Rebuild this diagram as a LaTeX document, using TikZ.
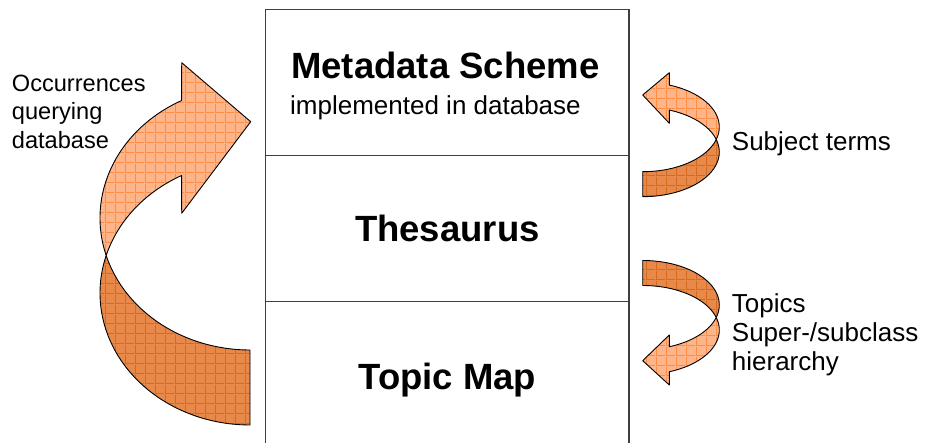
\documentclass[tikz,border=0pt]{standalone}
\usepackage{fontspec}
\setmainfont{Liberation Sans}
\usetikzlibrary{patterns.meta}

% small square mesh laid over the ribbon arrows
\pgfdeclarepattern{
  name=meshgrid,
  type=uncolored,
  bottom left={\pgfpoint{0pt}{0pt}},
  top right={\pgfpoint{9.5pt}{9.5pt}},
  tile size={\pgfpoint{9.5pt}{9.5pt}},
  code={
    \pgfsetlinewidth{0.9pt}
    \pgfpathmoveto{\pgfpoint{0pt}{0.5pt}}
    \pgfpathlineto{\pgfpoint{9.5pt}{0.5pt}}
    \pgfpathmoveto{\pgfpoint{0.5pt}{0pt}}
    \pgfpathlineto{\pgfpoint{0.5pt}{9.5pt}}
    \pgfusepath{stroke}
  }
}

\definecolor{frontfill}{HTML}{FFB58A}
\definecolor{frontgrid}{HTML}{FF8C42}
\definecolor{backfill}{HTML}{E8894A}
\definecolor{backgrid}{HTML}{D46A22}
\definecolor{frame}{HTML}{404040}

\tikzset{
  cell/.style={draw=frame, line width=1.3pt, minimum width=363.3pt,
    minimum height=146.2pt, inner sep=0pt, outer sep=0pt},
  front/.style={preaction={fill=frontfill}, pattern=meshgrid,
    pattern color=frontgrid, draw=black, line width=0.9pt, line join=round},
  back/.style={preaction={fill=backfill}, pattern=meshgrid,
    pattern color=backgrid, draw=black, line width=0.9pt, line join=round},
  layertitle/.style={font=\fontsize{36.5}{42}\selectfont\bfseries, inner sep=0pt},
  layersub/.style={font=\fontsize{26}{30}\selectfont, inner sep=0pt},
  leftnote/.style={font=\fontsize{23.6}{28.3}\selectfont, inner sep=0pt, anchor=base west},
  rightnote/.style={font=\fontsize{26}{29}\selectfont, inner sep=0pt, anchor=base west},
}

\begin{document}
\begin{tikzpicture}[x=1pt, y=1pt]
\useasboundingbox (0,0) rectangle (926,443);

% the three stacked layers (the lowest one runs off the bottom edge)
\begin{scope}
  \clip (0,0) rectangle (926,443);
  \node[cell] (meta) at (447.35,360.6) {};
  \node[cell] (thes) at (447.35,214.4) {};
  \node[cell] (tmap) at (447.35,68.2) {};
\end{scope}

\node[layertitle, anchor=base west] (metatitle) at (291,364.7) {Metadata Scheme};
\node[layersub, anchor=base west] (metasub) at (290,328) {implemented in database};
\node[layertitle, anchor=base] (thestitle) at (447.35,201.3) {Thesaurus};
\node[layertitle, anchor=base] (tmaptitle) at (447.35,53.7) {Topic Map};

% large ribbon arrow on the left: back face, then front face with head
\path[back]
  plot[domain=270:163.5, samples=60] ({250+150*cos(\x)},{150+132*sin(\x)})
  -- plot[domain=196.5:270, samples=60] ({250+150*cos(\x)},{225+132*sin(\x)})
  -- cycle;
\path[front]
  plot[domain=117.1:196.5, samples=60] ({250+150*cos(\x)},{225+132*sin(\x)})
  -- plot[domain=163.5:117.1, samples=60] ({250+150*cos(\x)},{150+132*sin(\x)})
  -- (181.7,229.7) -- (250.7,321.3) -- (181.7,380.3) -- cycle;

% upper right ribbon arrow, turning back to the top layer
\path[back]
  plot[domain=-90:16.24, samples=40] ({642.7+76.6*cos(\x)},{291+44.7*sin(\x)})
  -- plot[domain=-16.24:-90, samples=40] ({642.7+76.6*cos(\x)},{316+44.7*sin(\x)})
  -- cycle;
\path[front]
  plot[domain=69.68:-16.24, samples=40] ({642.7+76.6*cos(\x)},{316+44.7*sin(\x)})
  -- plot[domain=16.24:69.68, samples=40] ({642.7+76.6*cos(\x)},{291+44.7*sin(\x)})
  -- (669.3,319.7) -- (642.7,348) -- (669.3,370.3) -- cycle;

% lower right ribbon arrow, turning down to the bottom layer
\path[back]
  plot[domain=90:-16.31, samples=40] ({642.7+76.6*cos(\x)},{138+44.5*sin(\x)})
  -- plot[domain=16.31:90, samples=40] ({642.7+76.6*cos(\x)},{113+44.5*sin(\x)})
  -- cycle;
\path[front]
  plot[domain=-16.31:-69.68, samples=40] ({642.7+76.6*cos(\x)},{138+44.5*sin(\x)})
  -- (669.3,108) -- (642.7,82.3) -- (669.3,58)
  -- plot[domain=-69.68:16.31, samples=40] ({642.7+76.6*cos(\x)},{113+44.5*sin(\x)})
  -- cycle;

% side notes
\node[leftnote] (occ) at (11.7,351.3)
  {\begin{tabular}[t]{@{}l@{}}Occurrences\\querying\\database\end{tabular}};
\node[rightnote] (subj) at (731.7,292.5) {Subject terms};
\node[rightnote] (topics) at (731.7,130.5)
  {\begin{tabular}[t]{@{}l@{}}Topics\\Super-/subclass\\hierarchy\end{tabular}};
\end{tikzpicture}
\end{document}
